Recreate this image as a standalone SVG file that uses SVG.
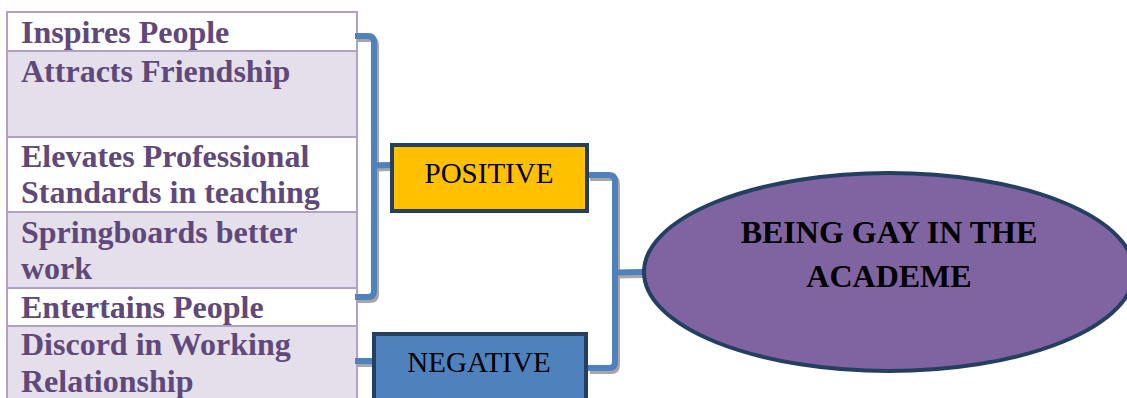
<svg xmlns="http://www.w3.org/2000/svg" width="1127" height="398" viewBox="0 0 1127 398">
<style>
.row{stroke:#B2A1C7;stroke-width:2}
.w{fill:#FFFFFF}
.l{fill:#E5DFEC}
.it{font-family:"Liberation Serif","Times New Roman",serif;font-weight:bold;font-size:32px;fill:#5F497A}
.box{stroke:#243F60;stroke-width:4}
.bt{font-family:"Liberation Serif","Times New Roman",serif;font-size:29px;fill:#000}
.ct{font-family:"Liberation Serif","Times New Roman",serif;font-weight:bold;font-size:32px;fill:#000}
.con{fill:none;stroke:#4F81BD;stroke-width:6}
.sh{fill:none;stroke:#A6A6A6;stroke-width:6}
</style>
<rect width="1127" height="398" fill="#FFFFFF"/>
<g id="table">
<rect class="row w" x="7" y="12" width="350" height="39"/>
<rect class="row l" x="7" y="51" width="350" height="86"/>
<rect class="row w" x="7" y="137" width="350" height="75"/>
<rect class="row l" x="7" y="212" width="350" height="76"/>
<rect class="row w" x="7" y="288" width="350" height="38"/>
<rect class="row l" x="7" y="326" width="350" height="80"/>
<text class="it" x="21" y="43">Inspires People</text>
<text class="it" x="21" y="82">Attracts Friendship</text>
<text class="it" x="21" y="167">Elevates Professional</text>
<text class="it" x="21" y="203">Standards in teaching</text>
<text class="it" x="21" y="243">Springboards better</text>
<text class="it" x="21" y="279">work</text>
<text class="it" x="21" y="318">Entertains People</text>
<text class="it" x="21" y="355">Discord in Working</text>
<text class="it" x="21" y="392">Relationship</text>
</g>
<g id="connectors">
<g transform="translate(2,3)">
<path class="sh" d="M355,36 H368 Q374,36 374,42 V291 Q374,297 368,297 H355"/>
<path class="sh" d="M374,166 Q376,165 392,165"/>
<path class="sh" d="M355,361 H372"/>
<path class="sh" d="M588,175 H609 Q615,175 615,181 V362 Q615,368 609,368 H588"/>
<path class="sh" d="M615,273 Q617,272 645,272"/>
</g>
<path class="con" d="M355,36 H368 Q374,36 374,42 V291 Q374,297 368,297 H355"/>
<path class="con" d="M374,166 Q376,165 392,165"/>
<path class="con" d="M355,361 H372"/>
<path class="con" d="M588,175 H609 Q615,175 615,181 V362 Q615,368 609,368 H588"/>
<path class="con" d="M615,273 Q617,272 645,272"/>
</g>
<g id="positive">
<rect class="box" x="392" y="145" width="195" height="66" fill="#FFC000"/>
<text class="bt" x="489" y="183" text-anchor="middle">POSITIVE</text>
</g>
<g id="negative">
<rect class="box" x="374" y="334" width="212" height="70" fill="#4F81BD"/>
<text class="bt" x="479" y="372" text-anchor="middle">NEGATIVE</text>
</g>
<g id="center">
<ellipse cx="889" cy="272" rx="245" ry="99" fill="#8064A2" stroke="#243F60" stroke-width="4"/>
<text class="ct" x="889" y="243" text-anchor="middle">BEING GAY IN THE</text>
<text class="ct" x="889" y="287" text-anchor="middle">ACADEME</text>
</g>
</svg>
